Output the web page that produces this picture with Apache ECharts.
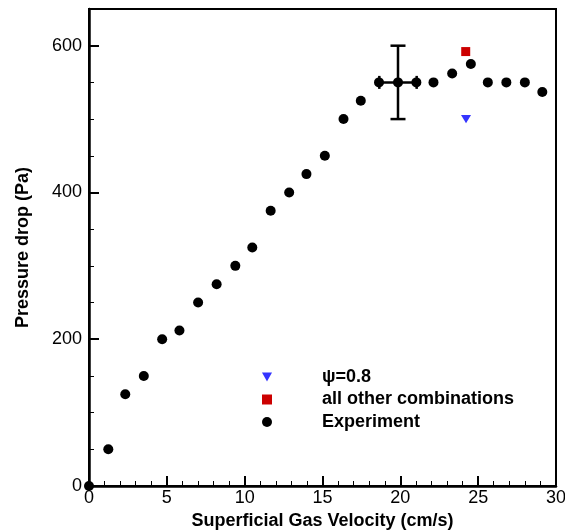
<!DOCTYPE html>
<html>
<head>
<meta charset="utf-8">
<script src="https://cdn.jsdelivr.net/npm/echarts@6/dist/echarts.min.js"></script>
<style>
html,body{margin:0;padding:0;background:#fff;overflow:hidden;}
#chart{width:565px;height:531px;}
</style>
</head>
<body>
<div id="chart"></div>
<script>
// Experiment data
var expX = [0, 1.24, 2.33, 3.52, 4.70, 5.81, 7.01, 8.2, 9.4, 10.49, 11.67, 12.86, 13.97, 15.15, 16.35, 17.46, 18.63, 19.85, 21.03, 22.13, 23.33, 24.53, 25.62, 26.81, 28.0, 29.12];
var expY = [0, 50, 125, 150, 200, 212, 250, 275, 300, 325, 375, 400, 425, 450, 500, 525, 550, 550, 550, 550, 562, 575, 550, 550, 550, 537];
// psi = 0.8
var psiX = [24.22];
var psiY = [500];
// all other combinations
var otherX = [24.2];
var otherY = [592];
// error bar: [x, y, xErr, yErr]
var errX = [19.85];
var errY = [550];
var errDX = [1.2];
var errDY = [50];

var seriesNames = ['\u03c8=0.8', 'all other combinations', 'Experiment'];
var xTicks = {min: 0, max: 30, interval: 5};
var yTicks = {min: 0, max: 650, interval: 200};

function zip(a, b) { return a.map(function (v, i) { return [v, b[i]]; }); }

var font = 'Liberation Sans, Arial, Helvetica, sans-serif';
var chart = echarts.init(document.getElementById('chart'), null, {renderer: 'canvas'});
chart.setOption({
  animation: false,
  backgroundColor: '#fff',
  grid: {left: 89, right: 9, top: 9, bottom: 45, show: true, borderColor: '#000', borderWidth: 2, backgroundColor: 'transparent', containLabel: false, outerBoundsMode: 'none'},
  legend: {
    orient: 'vertical',
    left: 262, top: 368, padding: 0,
    itemWidth: 10, itemHeight: 10, itemGap: 4.5,
    data: seriesNames,
    textStyle: {fontFamily: font, fontSize: 18, fontWeight: 'bold', color: '#000', lineHeight: 17, padding: [0, 0, 0, 45]}
  },
  xAxis: {
    type: 'value', min: xTicks.min, max: xTicks.max, interval: xTicks.interval,
    name: 'Superficial Gas Velocity (cm/s)', nameLocation: 'middle', nameGap: 14,
    nameTextStyle: {fontFamily: font, fontSize: 18, fontWeight: 'bold', color: '#000'},
    axisLine: {show: true, onZero: false, lineStyle: {color: '#000', width: 2.5}},
    axisTick: {show: true, inside: true, length: 10, lineStyle: {color: '#000', width: 2}},
    minorTick: {show: true, splitNumber: 5, length: 5, lineStyle: {color: '#000', width: 1}},
    axisLabel: {fontFamily: font, fontSize: 18, color: '#000', margin: 3},
    splitLine: {show: false}
  },
  yAxis: {
    type: 'value', min: yTicks.min, max: yTicks.max, interval: yTicks.interval,
    name: 'Pressure drop (Pa)', nameLocation: 'middle', nameGap: 57,
    nameTextStyle: {fontFamily: font, fontSize: 18, fontWeight: 'bold', color: '#000'},
    axisLine: {show: true, onZero: false, lineStyle: {color: '#000', width: 2.5}},
    axisTick: {show: true, inside: true, length: 10, lineStyle: {color: '#000', width: 2}},
    minorTick: {show: true, splitNumber: 4, length: 5, lineStyle: {color: '#000', width: 1}},
    axisLabel: {fontFamily: font, fontSize: 18, color: '#000', margin: 7, showMaxLabel: false},
    splitLine: {show: false}
  },
  series: [
    {
      name: seriesNames[0], type: 'scatter',
      symbol: 'path://M0,0 L10,0 L5,9 Z', symbolSize: [10, 9], symbolKeepAspect: true,
      itemStyle: {color: '#3434ff', opacity: 1},
      data: zip(psiX, psiY), z: 3
    },
    {
      name: seriesNames[1], type: 'scatter',
      symbol: 'rect', symbolSize: 9,
      itemStyle: {color: '#cc0000', opacity: 1},
      data: zip(otherX, otherY), z: 3
    },
    {
      name: seriesNames[2], type: 'scatter',
      symbol: 'circle', symbolSize: 10,
      itemStyle: {color: '#000', opacity: 1},
      data: zip(expX, expY), z: 3, clip: false
    },
    {
      type: 'custom', silent: true, z: 2,
      data: errX.map(function (x, i) { return [x, errY[i], errDX[i], errDY[i]]; }),
      renderItem: function (params, api) {
        var x = api.value(0), y = api.value(1), dx = api.value(2), dy = api.value(3);
        var top = api.coord([x, y + dy]);
        var bot = api.coord([x, y - dy]);
        var lft = api.coord([x - dx, y]);
        var rgt = api.coord([x + dx, y]);
        var hw = 7.5, hh = 6.5;
        var st = {stroke: '#000', lineWidth: 2.5};
        return {
          type: 'group',
          children: [
            {type: 'line', shape: {x1: top[0], y1: top[1], x2: bot[0], y2: bot[1]}, style: st},
            {type: 'line', shape: {x1: top[0] - hw, y1: top[1], x2: top[0] + hw, y2: top[1]}, style: st},
            {type: 'line', shape: {x1: bot[0] - hw, y1: bot[1], x2: bot[0] + hw, y2: bot[1]}, style: st},
            {type: 'line', shape: {x1: lft[0], y1: lft[1], x2: rgt[0], y2: rgt[1]}, style: st},
            {type: 'line', shape: {x1: lft[0], y1: lft[1] - hh, x2: lft[0], y2: lft[1] + hh}, style: st},
            {type: 'line', shape: {x1: rgt[0], y1: rgt[1] - hh, x2: rgt[0], y2: rgt[1] + hh}, style: st}
          ]
        };
      }
    }
  ]
});
</script>
</body>
</html>
